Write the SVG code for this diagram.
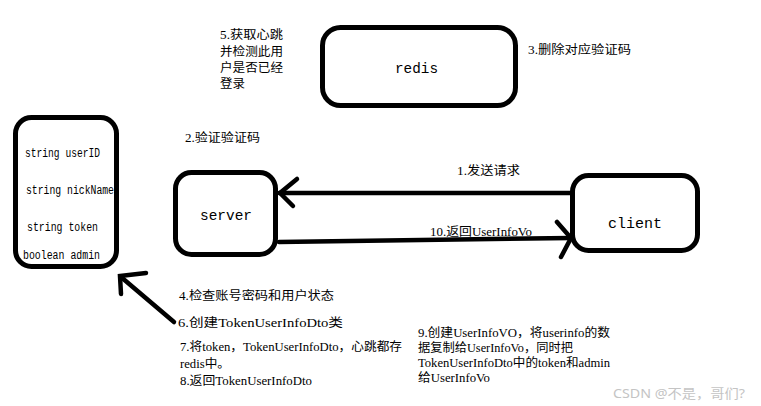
<svg xmlns="http://www.w3.org/2000/svg" width="761" height="406" viewBox="0 0 761 406">
<style>
.box{fill:none;stroke:#000;stroke-width:5}
.ln{fill:none;stroke:#000;stroke-width:4.5;stroke-linecap:round}
.nl{font-family:"Liberation Mono","DejaVu Sans Mono",monospace;font-size:15px;fill:#000}
.fl{font-family:"Liberation Mono","DejaVu Sans Mono",monospace;font-size:12px;fill:#000}
.t{font-family:"Liberation Serif","Noto Sans CJK SC",serif;font-size:12px;fill:#000}
.wm{font-family:"Noto Sans","Noto Sans CJK SC",sans-serif;font-size:13px;fill:#c4c4c4}
</style>
<rect width="761" height="406" fill="#fff"/>
<g id="dto">
<rect class="box" x="15.5" y="117.5" width="101" height="149" rx="16"/>
<text class="fl" x="25" y="157" textLength="75" lengthAdjust="spacingAndGlyphs">string userID</text>
<text class="fl" x="26" y="194" textLength="88" lengthAdjust="spacingAndGlyphs">string nickName</text>
<text class="fl" x="27" y="231" textLength="71" lengthAdjust="spacingAndGlyphs">string token</text>
<text class="fl" x="23" y="259" textLength="77" lengthAdjust="spacingAndGlyphs">boolean admin</text>
</g>
<g id="redis">
<rect class="box" x="322.5" y="27.5" width="193" height="78" rx="18"/>
<text class="nl" x="395" y="73" textLength="43" lengthAdjust="spacingAndGlyphs">redis</text>
</g>
<g id="server">
<rect class="box" x="175.5" y="172.5" width="100" height="82" rx="16"/>
<text class="nl" x="200" y="220" textLength="52" lengthAdjust="spacingAndGlyphs">server</text>
</g>
<g id="client">
<rect class="box" x="572.5" y="175.5" width="125" height="75" rx="16"/>
<text class="nl" x="608" y="228" textLength="54" lengthAdjust="spacingAndGlyphs">client</text>
</g>
<g id="connectors">
<line class="ln" x1="279" y1="193" x2="571" y2="193"/>
<polyline class="ln" points="297,179 280,193 293,206"/>
<line class="ln" x1="279" y1="242" x2="571" y2="238"/>
<polyline class="ln" points="557,222 571,238 561,257"/>
<line class="ln" x1="174" y1="322" x2="121" y2="277" stroke-width="5"/>
<polyline class="ln" points="146,273 120,276 121,294" stroke-width="5"/>
</g>
<g id="labels">
<text class="t" x="220" y="39" textLength="63" lengthAdjust="spacingAndGlyphs">5.获取心跳</text>
<text class="t" x="220" y="56" textLength="63" lengthAdjust="spacingAndGlyphs">并检测此用</text>
<text class="t" x="220" y="72" textLength="63" lengthAdjust="spacingAndGlyphs">户是否已经</text>
<text class="t" x="220" y="88" textLength="25" lengthAdjust="spacingAndGlyphs">登录</text>
<text class="t" x="528" y="54" textLength="103" lengthAdjust="spacingAndGlyphs">3.删除对应验证码</text>
<text class="t" x="185" y="142" textLength="75" lengthAdjust="spacingAndGlyphs">2.验证验证码</text>
<text class="t" x="457" y="175" textLength="63" lengthAdjust="spacingAndGlyphs">1.发送请求</text>
<text class="t" x="430" y="236" textLength="102" lengthAdjust="spacingAndGlyphs">10.返回UserInfoVo</text>
<text class="t" x="179" y="300" textLength="155" lengthAdjust="spacingAndGlyphs">4.检查账号密码和用户状态</text>
<text class="t" x="178" y="327" textLength="165" lengthAdjust="spacingAndGlyphs">6.创建TokenUserInfoDto类</text>
<text class="t" x="180" y="351" textLength="222" lengthAdjust="spacingAndGlyphs">7.将token，TokenUserInfoDto，心跳都存</text>
<text class="t" x="180" y="368" textLength="50" lengthAdjust="spacingAndGlyphs">redis中。</text>
<text class="t" x="180" y="385" textLength="132" lengthAdjust="spacingAndGlyphs">8.返回TokenUserInfoDto</text>
<text class="t" x="418" y="337" textLength="192" lengthAdjust="spacingAndGlyphs">9.创建UserInfoVO，将userinfo的数</text>
<text class="t" x="418" y="352" textLength="155" lengthAdjust="spacingAndGlyphs">据复制给UserInfoVo，同时把</text>
<text class="t" x="418" y="367" textLength="192" lengthAdjust="spacingAndGlyphs">TokenUserInfoDto中的token和admin</text>
<text class="t" x="418" y="382" textLength="72" lengthAdjust="spacingAndGlyphs">给UserInfoVo</text>
<text class="wm" x="613" y="398" textLength="132" lengthAdjust="spacingAndGlyphs">CSDN @不是，哥们?</text>
</g>
</svg>
